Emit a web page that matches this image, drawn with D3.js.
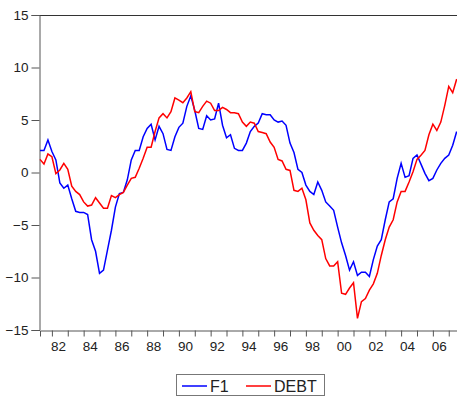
<!DOCTYPE html>
<html>
<head>
<meta charset="utf-8">
<script src="https://cdn.jsdelivr.net/npm/d3@7"></script>
<style>
  body { margin: 0; background: #fff; }
  svg { display: block; font-family: "Liberation Sans", Arial, sans-serif; }
</style>
</head>
<body>
<div id="container"></div>
<script>
// quarterly, 1981Q2 .. 2007Q3
var startYear = 1981.25;
var f1 = [2.1, 2.1, 3.1, 2.0, 1.2, -1.0, -1.5, -1.2, -2.5, -3.7, -3.8, -3.8, -4.0, -6.4, -7.5, -9.6,
  -9.3, -7.4, -5.5, -3.3, -2.0, -1.9, -0.7, 1.2, 2.1, 2.1, 3.4, 4.2, 4.6, 3.1, 4.4, 3.7,
  2.2, 2.1, 3.4, 4.3, 4.7, 6.3, 7.3, 5.9, 4.2, 4.1, 5.4, 5.0, 5.1, 6.6, 4.5, 3.3,
  3.6, 2.3, 2.1, 2.1, 2.8, 3.9, 4.4, 4.7, 5.6, 5.5, 5.5, 5.0, 4.8, 4.9, 4.5, 2.8,
  1.9, 0.3, 0.0, -1.2, -1.8, -2.1, -0.9, -1.7, -2.8, -3.2, -3.6, -5.2, -6.7, -7.9, -9.3, -8.5,
  -9.8, -9.5, -9.5, -9.9, -8.3, -7.0, -6.4, -4.5, -2.8, -2.5, -0.56, 0.87, -0.46, -0.3, 1.35, 1.67,
  0.8, -0.08, -0.78, -0.56, 0.24, 0.87, 1.35, 1.67, 2.6, 3.9];
var debt = [1.25, 0.8, 1.76, 1.5, -0.1, 0.24, 0.87, 0.3, -1.3, -1.8, -2.1, -2.8, -3.2, -3.1, -2.4, -2.9,
  -3.4, -3.4, -2.2, -2.4, -2.1, -1.9, -1.2, -0.56, -0.46, 0.4, 1.35, 2.4, 2.4, 3.9, 5.2, 5.6,
  5.2, 5.8, 7.1, 6.9, 6.65, 7.1, 7.7, 5.8, 5.7, 6.3, 6.8, 6.6, 5.9, 5.9, 6.2, 6.0,
  5.7, 5.7, 5.6, 4.8, 4.4, 4.8, 4.7, 3.9, 3.8, 3.7, 2.9, 2.4, 1.25, 1.1, 0.3, 0.2,
  -1.7, -1.8, -1.5, -2.6, -4.8, -5.5, -6.0, -6.4, -8.2, -8.9, -8.9, -8.5, -11.5, -11.6, -11.0, -10.5,
  -13.9, -12.3, -12.0, -11.2, -10.6, -9.6, -7.9, -6.4, -5.2, -4.5, -2.8, -1.8, -1.8, -0.9, 0.08, 1.25,
  1.65, 2.1, 3.6, 4.6, 4.0, 4.8, 6.4, 8.2, 7.6, 8.9];
var yTicks = [-15, -10, -5, 0, 5, 10, 15];
var yearTicks = d3.range(1982, 2008);
var yearLabels = d3.range(1982, 2008, 2);
var seriesNames = ['F1', 'DEBT'];
var seriesColors = ['#0000ff', '#ff0000'];

function drawChart() {
  var W = 457, H = 396;
  var pLeft = 40, pTop = 15, pRight = 457, pBottom = 330;

  var svg = d3.select('#container').append('svg').attr('width', W).attr('height', H);

  var xScale = d3.scaleLinear().domain([1981.25, 2007.52]).range([pLeft, pRight]);
  var yScale = d3.scaleLinear().domain([-15, 15]).range([pBottom, pTop]);

  // top of the frame
  svg.append('line').attr('x1', pLeft).attr('x2', pRight).attr('y1', pTop + 0.5).attr('y2', pTop + 0.5)
    .attr('stroke', '#333').attr('stroke-width', 1);

  var yAxis = svg.append('g').attr('transform', 'translate(' + (pLeft - 0.5) + ',0)')
    .call(d3.axisLeft(yScale).tickValues(yTicks).tickSize(8).tickPadding(3).tickFormat(d3.format('d')));
  yAxis.select('.domain').attr('stroke', '#555');
  yAxis.selectAll('.tick line').attr('stroke', '#555');
  yAxis.selectAll('text').attr('font-size', 13.5).attr('fill', '#222').attr('font-family', null);

  var xAxis = svg.append('g').attr('transform', 'translate(0,' + (pBottom + 0.5) + ')')
    .call(d3.axisBottom(xScale).tickValues(yearTicks).tickSize(6).tickFormat(''));
  xAxis.select('.domain').attr('stroke', '#555');
  xAxis.selectAll('.tick line').attr('stroke', '#555');

  svg.append('g').selectAll('text').data(yearLabels).enter().append('text')
    .attr('x', function(d) { return xScale(d) - 1; })
    .attr('y', 351)
    .attr('font-size', 13.5).attr('fill', '#222')
    .text(function(d) { return d3.format('02d')(d % 100); });

  var line = d3.line()
    .x(function(d, i) { return xScale(startYear + i * 0.25); })
    .y(function(d) { return yScale(d); });

  [f1, debt].forEach(function(s, k) {
    svg.append('path').datum(s)
      .attr('d', line)
      .attr('fill', 'none')
      .attr('stroke', seriesColors[k])
      .attr('stroke-width', 1.5);
  });

  // legend
  var lg = svg.append('g');
  lg.append('rect').attr('x', 176.5).attr('y', 374.5).attr('width', 148).attr('height', 21)
    .attr('fill', '#fff').attr('stroke', '#777');
  var legendX = [182, 246];
  seriesNames.forEach(function(n, k) {
    lg.append('line').attr('x1', legendX[k]).attr('x2', legendX[k] + 25)
      .attr('y1', 386).attr('y2', 386).attr('stroke', seriesColors[k]).attr('stroke-width', 1.5);
    lg.append('text').attr('x', legendX[k] + 28).attr('y', 392)
      .attr('font-size', 16).attr('fill', '#222').text(n);
  });
}

window.onload = drawChart;
</script>
</body>
</html>
